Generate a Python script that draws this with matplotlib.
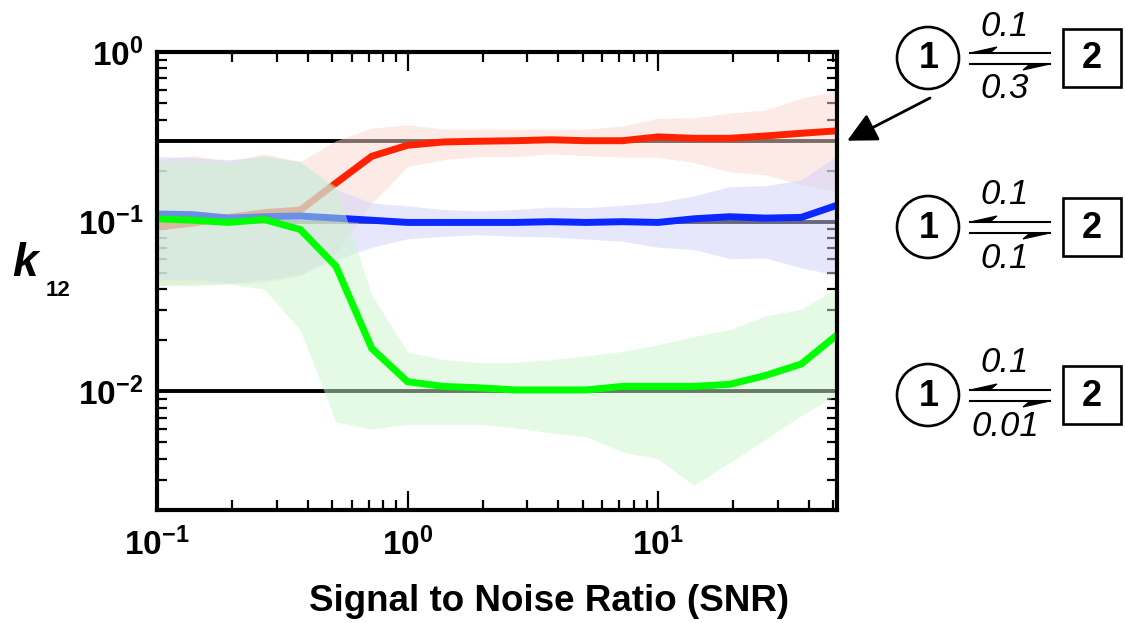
"""
k12 recovery vs. SNR for three two-state models (1 <-> 2).
Median estimate with the spread shaded, true k12 drawn as reference lines.
"""
import numpy as np
import matplotlib
matplotlib.use("Agg")
import matplotlib.pyplot as plt
from matplotlib.patches import Circle, Rectangle, Polygon

plt.rcParams["font.family"] = ["Liberation Sans", "DejaVu Sans"]
plt.rcParams["mathtext.fontset"] = "custom"
plt.rcParams["mathtext.rm"] = "Liberation Sans:bold"
plt.rcParams["mathtext.bf"] = "Liberation Sans:bold"
plt.rcParams["mathtext.it"] = "Liberation Sans:italic:bold"

# SNR grid
snr = [0.1, 0.139, 0.193, 0.268, 0.373, 0.518, 0.720, 1.0, 1.39, 1.93,
       2.68, 3.73, 5.18, 7.20, 10.0, 13.9, 19.3, 26.8, 37.3, 51.8]

# true rates for each model: k21 fixed, k12 varies
k21_true = [0.1, 0.1, 0.1]
k12_true = [0.3, 0.1, 0.01]
k12_text = ["0.3", "0.1", "0.01"]

# model k12 = 0.3 (red)
red_med = [0.093, 0.098, 0.106, 0.113, 0.117, 0.169, 0.243, 0.282, 0.295, 0.298,
           0.300, 0.304, 0.300, 0.300, 0.316, 0.310, 0.310, 0.320, 0.332, 0.343]
red_hi = [0.232, 0.245, 0.226, 0.251, 0.226, 0.300, 0.356, 0.373, 0.351, 0.351,
          0.351, 0.351, 0.351, 0.367, 0.407, 0.410, 0.436, 0.456, 0.534, 0.590]
red_lo = [0.042, 0.043, 0.043, 0.044, 0.048, 0.065, 0.128, 0.211, 0.232, 0.242,
          0.242, 0.251, 0.245, 0.240, 0.240, 0.223, 0.197, 0.189, 0.165, 0.150]

# model k12 = 0.1 (blue)
blue_med = [0.111, 0.110, 0.105, 0.107, 0.108, 0.105, 0.102, 0.099, 0.099, 0.099,
            0.099, 0.100, 0.099, 0.100, 0.099, 0.104, 0.107, 0.105, 0.106, 0.125]
blue_hi = [0.242, 0.238, 0.232, 0.242, 0.226, 0.155, 0.129, 0.124, 0.118, 0.116,
           0.118, 0.122, 0.121, 0.125, 0.130, 0.142, 0.161, 0.163, 0.176, 0.245]
blue_lo = [0.0455, 0.0455, 0.0437, 0.0455, 0.049, 0.0597, 0.0707, 0.0793, 0.082, 0.0838,
           0.082, 0.0812, 0.079, 0.0767, 0.0707, 0.0685, 0.0606, 0.061, 0.0535, 0.0483]

# model k12 = 0.01 (green)
green_med = [0.104, 0.102, 0.099, 0.103, 0.090, 0.0546, 0.0179, 0.0114, 0.0107, 0.0105,
             0.0102, 0.0102, 0.0102, 0.0107, 0.0107, 0.0107, 0.0110, 0.0124, 0.0145, 0.0215]
green_hi = [0.228, 0.230, 0.222, 0.245, 0.224, 0.161, 0.037, 0.0171, 0.0154, 0.0148,
            0.0148, 0.0154, 0.0162, 0.0172, 0.0188, 0.0211, 0.0231, 0.0278, 0.0305, 0.0406]
green_lo = [0.042, 0.042, 0.043, 0.040, 0.023, 0.0066, 0.0060, 0.0064, 0.0064, 0.0064,
            0.0061, 0.0057, 0.0054, 0.0044, 0.0040, 0.0028, 0.0038, 0.0052, 0.0072, 0.0096]

xticks = [0.1, 1, 10]
xticklabels = [r"$10^{-1}$", r"$10^{0}$", r"$10^{1}$"]
yticks = [0.01, 0.1, 1]
yticklabels = [r"$10^{-2}$", r"$10^{-1}$", r"$10^{0}$"]

W, H = 1125, 623
fig = plt.figure(figsize=(W / 100, H / 100), dpi=100)
ax = fig.add_axes([157 / W, 1 - 510 / H, (837 - 157) / W, (510 - 52) / H])
ax.set_xscale("log")
ax.set_yscale("log")
ax.set_xlim(0.1, 51.8)
ax.set_ylim(0.002, 1)

# reference lines sit under the shaded bands
for k in k12_true:
    ax.axhline(k, color="black", lw=2.8, zorder=0.8)

series = [
    (red_med, red_lo, red_hi, "#ff2200", (0.98, 0.84, 0.81)),
    (blue_med, blue_lo, blue_hi, "#0a28ff", (0.82, 0.82, 0.98)),
    (green_med, green_lo, green_hi, "#00ff00", (0.80, 0.97, 0.80)),
]
z = 1.0
for med, lo, hi, line_c, fill_c in series:
    ax.fill_between(snr, lo, hi, color=fill_c, alpha=0.5, lw=0, zorder=z)
    ax.plot(snr, med, color=line_c, lw=5, solid_joinstyle="miter", zorder=z + 0.1)
    z += 0.2

ax.set_axisbelow(True)
for s in ax.spines.values():
    s.set_linewidth(3)
    s.set_zorder(5)
ax.tick_params(which="both", direction="in", top=True, right=True, width=1.6)
ax.tick_params(which="major", length=14, labelsize=24)
ax.tick_params(which="minor", length=7)
ax.tick_params(axis="x", which="major", pad=13)
ax.tick_params(axis="y", which="major", pad=10)
ax.set_xticks(xticks, xticklabels)
ax.set_yticks(yticks, yticklabels)

ax.set_xlabel("Signal to Noise Ratio (SNR)", fontsize=26.5, fontweight="bold",
              va="top")
ax.xaxis.set_label_coords((549 - 157) / 680, (510 - 584) / 458)

fig.text(12 / W, 1 - 264 / H, "k", fontsize=33, fontweight="bold", style="italic",
         ha="left", va="center")
fig.text(46 / W, 1 - 290 / H, "12", fontsize=16, fontweight="bold",
         ha="left", va="center")

# reaction schemes on the right, drawn in pixel coordinates
ov = fig.add_axes([0, 0, 1, 1], zorder=10)
ov.set_xlim(0, W)
ov.set_ylim(H, 0)
ov.axis("off")
ov.patch.set_alpha(0)

row_y = [58, 227, 395]
for y0, kf, kb in zip(row_y, k21_true, k12_text):
    ov.add_patch(Circle((928, y0), 31, fill=False, lw=1.9, ec="black"))
    ov.text(929, y0 + 1, "1", fontsize=26, fontweight="bold", ha="center", va="center")
    ov.add_patch(Rectangle((1063, y0 - 29), 58, 58, fill=False, lw=1.9, ec="black"))
    ov.text(1092, y0 + 1, "2", fontsize=26, fontweight="bold", ha="center", va="center")
    # leftwards harpoon on top, rightwards harpoon below
    ov.plot([970, 1050], [y0 - 5, y0 - 5], color="black", lw=1.5)
    ov.add_patch(Polygon([(970, y0 - 5), (997, y0 - 11), (990, y0 - 5)], closed=True,
                         fc="black", ec="black", lw=0.8))
    ov.plot([970, 1050], [y0 + 6, y0 + 6], color="black", lw=1.5)
    ov.add_patch(Polygon([(1050, y0 + 6), (1023, y0 + 12), (1030, y0 + 6)], closed=True,
                         fc="black", ec="black", lw=0.8))
    ov.text(1005, y0 - 32, f"{kf:g}", fontsize=25, style="italic", ha="center", va="center")
    ov.text(1005, y0 + 31, kb, fontsize=25, style="italic", ha="center", va="center")

ax.annotate("", xy=(1.015, k12_true[0]), xycoords=("axes fraction", "data"),
            xytext=(930, 98), textcoords=ov.transData, annotation_clip=False,
            arrowprops=dict(arrowstyle="-|>,head_length=0.9,head_width=0.45",
                            mutation_scale=20, lw=2, color="black",
                            shrinkA=0, shrinkB=0))

fig.savefig("out.png", dpi=100)
